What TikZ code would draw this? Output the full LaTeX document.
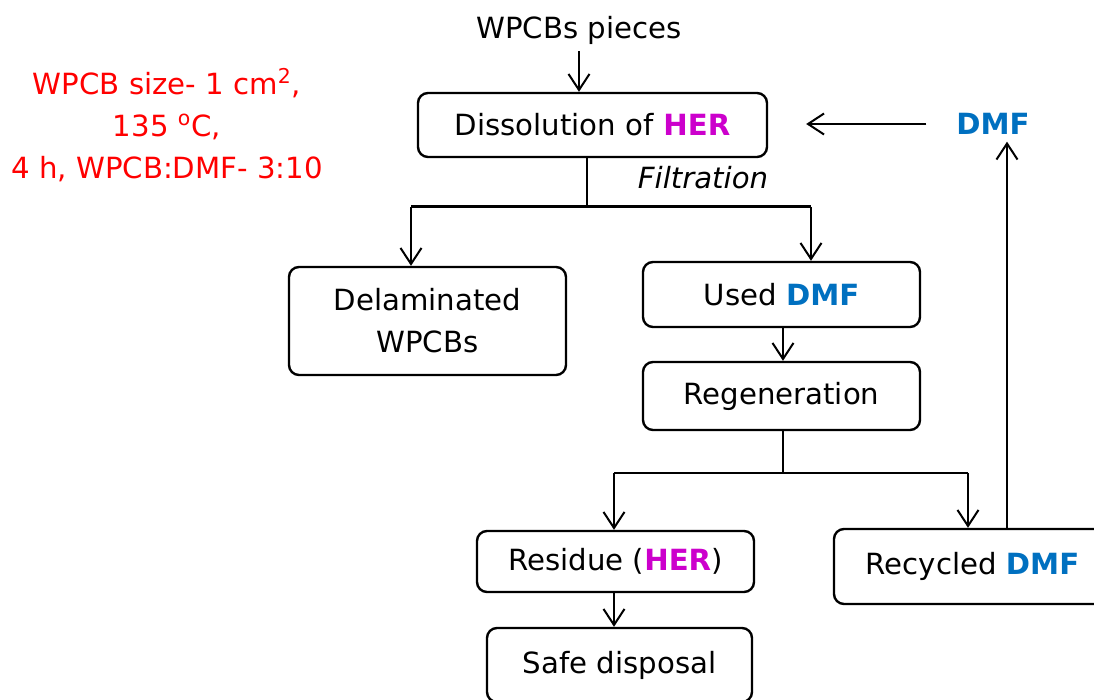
\documentclass[tikz,border=0pt]{standalone}
\usepackage{fontspec}
\setmainfont{DejaVu Sans}
\usetikzlibrary{arrows.meta}
\definecolor{herc}{RGB}{204,0,204}
\definecolor{dmfc}{RGB}{0,112,192}
\begin{document}
\begin{tikzpicture}[x=0.5pt,y=-0.5pt,
  font=\fontsize{14.6}{21}\selectfont,
  box/.style={draw, line width=1.2pt, rounded corners=5pt, inner sep=0pt, align=center},
  arr/.style={draw, line width=1pt, -{Straight Barb[length=8pt,width=10.5pt,line width=1pt]}},
  ln/.style={draw, line width=1pt},
  her/.style={},
]
\path[use as bounding box, clip] (0,0) rectangle (1094,700);

% process steps
\node (src) at (579,30) {WPCBs pieces};
\node[box, minimum width=174.5pt, minimum height=32pt] (dis) at (592.5,125) {Dissolution of \textbf{\color{herc}HER}};
\node (dmf) at (993,124) {\textbf{\color{dmfc}DMF}};
\node[font=\fontsize{14.6}{21}\selectfont\itshape] (filt) at (703,178) {Filtration};
\node[box, minimum width=138.5pt, minimum height=54pt] (del) at (427.5,321) {Delaminated\\WPCBs};
\node[box, minimum width=138.5pt, minimum height=32.5pt] (used) at (781.5,294.5) {Used \textbf{\color{dmfc}DMF}};
\node[box, minimum width=138.5pt, minimum height=34pt] (reg) at (781.5,396) {Regeneration};
\node[box, minimum width=138.5pt, minimum height=30.5pt] (res) at (615.5,561.5) {Residue (\textbf{\color{herc}HER})};
\node[box, minimum width=138.5pt, minimum height=37.5pt] (rec) at (972.5,566.5) {Recycled \textbf{\color{dmfc}DMF}};
\node[box, minimum width=132.5pt, minimum height=37pt] (safe) at (619.5,665) {Safe disposal};

% process conditions
\node[text=red, align=center, font=\fontsize{14.6}{21}\selectfont] (cond) at (167,125)
  {WPCB size- 1 cm\textsuperscript{2},\\135 \textsuperscript{o}C,\\4 h, WPCB:DMF- 3:10};

% branch points
\coordinate (fj) at (587,207);
\coordinate (fl) at (411,207);
\coordinate (fr) at (811,207);
\coordinate (rj) at (783,473);
\coordinate (rl) at (614,473);
\coordinate (rr) at (968,473);

% connectors
\draw[arr] (src.south) -- (src.south |- dis.north);
\draw[arr, shorten <=11.5pt, shorten >=19pt] (dmf.west) -- (dmf.west -| dis.east);
\draw[ln] (dis.south -| fj) -- (fj);
\draw[line width=1.5pt] (fl) -- (fr);
\draw[arr] (fl) -- (fl |- del.north);
\draw[arr] (fr) -- (fr |- used.north);
\draw[arr] (used.south -| rj) -- (reg.north -| rj);
\draw[ln] (reg.south -| rj) -- (rj);
\draw[ln] (rl) -- (rr);
\draw[arr] (rl) -- (rl |- res.north);
\draw[arr] (rr) -- (rr |- rec.north);
\draw[arr] (res.south -| rl) -- (safe.north -| rl);
\draw[arr] ([xshift=7pt]dmf.south |- rec.north) -- ([xshift=7pt]dmf.south);
\end{tikzpicture}
\end{document}
